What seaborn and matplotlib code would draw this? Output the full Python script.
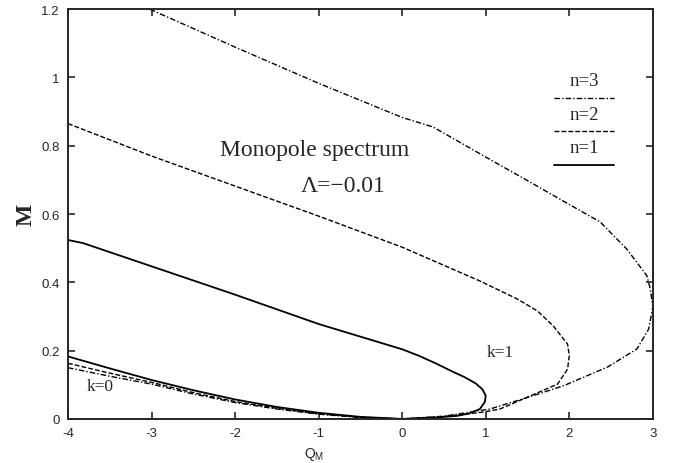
import numpy as np
import pandas as pd
import seaborn as sns
import matplotlib
matplotlib.use("Agg")
import matplotlib.pyplot as plt

# k=1 branches: from Q=-4 out to the turning point and back down to M~0
n1_k1_q = [-4.0, -3.82, -3.0, -2.0, -1.0, 0.0, 0.2, 0.4, 0.6, 0.75, 0.88, 0.96, 1.0, 0.99, 0.93, 0.8, 0.66, 0.4, 0.0]
n1_k1_m = [0.524, 0.515, 0.447, 0.364, 0.278, 0.204, 0.185, 0.163, 0.139, 0.122, 0.104, 0.087, 0.068, 0.050, 0.029, 0.016, 0.009, 0.004, 0.0]

n2_k1_q = [-4.0, -3.0, -2.0, -1.0, 0.0, 0.93, 1.38, 1.62, 1.81, 1.98, 2.0, 1.98, 1.86, 1.53, 1.17, 0.97, 0.5, 0.0]
n2_k1_m = [0.865, 0.770, 0.682, 0.594, 0.503, 0.404, 0.351, 0.316, 0.272, 0.219, 0.185, 0.146, 0.102, 0.067, 0.029, 0.020, 0.007, 0.0]

n3_k1_q = [-3.02, -2.0, -1.0, 0.0, 0.37, 1.0, 1.5, 2.0, 2.37, 2.69, 2.93, 2.97, 3.0, 2.95, 2.81, 2.46, 1.93, 1.45, 1.05, 0.5, 0.0]
n3_k1_m = [1.2, 1.089, 0.983, 0.883, 0.855, 0.767, 0.698, 0.628, 0.577, 0.497, 0.419, 0.380, 0.328, 0.263, 0.205, 0.152, 0.097, 0.059, 0.029, 0.008, 0.0]

# k=0 branches
k0_q = [-4.0, -3.5, -3.0, -2.5, -2.0, -1.5, -1.0, -0.5, 0.0]
n1_k0_m = [0.183, 0.148, 0.114, 0.084, 0.057, 0.035, 0.018, 0.006, 0.0]
n2_k0_m = [0.163, 0.134, 0.107, 0.077, 0.051, 0.031, 0.015, 0.005, 0.0]
n3_k0_m = [0.150, 0.125, 0.102, 0.073, 0.048, 0.029, 0.014, 0.004, 0.0]

legend_labels = ["n=3", "n=2", "n=1"]
x_ticks = [-4, -3, -2, -1, 0, 1, 2, 3]
y_ticks = [0, 0.2, 0.4, 0.6, 0.8, 1.0, 1.2]
y_tick_labels = ["0", "0.2", "0.4", "0.6", "0.8", "1", "1.2"]

sns.set_style("ticks")
plt.rcParams["font.family"] = ["Liberation Sans", "DejaVu Sans"]

fig = plt.figure(figsize=(6.73, 4.64), dpi=100)
ax = fig.add_axes([0.101, 0.095, 0.869, 0.883])

styles = {
    "n=1": dict(ls="-", lw=1.3),
    "n=2": dict(ls=(0, (3.5, 1.5)), lw=1.0),
    "n=3": dict(ls=(0, (4, 1.5, 1, 1.5)), lw=1.0),
}

curves = [
    ("n=1", n1_k1_q, n1_k1_m), ("n=1", k0_q, n1_k0_m),
    ("n=2", n2_k1_q, n2_k1_m), ("n=2", k0_q, n2_k0_m),
    ("n=3", n3_k1_q, n3_k1_m), ("n=3", k0_q, n3_k0_m),
]
for name, q, m in curves:
    df = pd.DataFrame({"Q": q, "M": m})
    sns.lineplot(data=df, x="Q", y="M", sort=False, estimator=None,
                 color="black", linestyle=styles[name]["ls"],
                 linewidth=styles[name]["lw"], ax=ax)

ax.set_xlim(-4, 3)
ax.set_ylim(0, 1.2)
ax.set_xticks(x_ticks)
ax.set_xticklabels([str(t) for t in x_ticks])
ax.set_yticks(y_ticks)
ax.set_yticklabels(y_tick_labels)
ax.tick_params(direction="in", length=5, width=1.2, labelsize=9.5,
               top=True, right=True, pad=6)
for s in ax.spines.values():
    s.set_linewidth(1.4)

ax.set_xlabel("Q$_\\mathregular{M}$", fontsize=10, labelpad=4, x=0.42)
ax.set_ylabel("M", fontsize=17, fontweight="bold", family="Liberation Serif",
              labelpad=3)

serif = "Liberation Serif"
ax.text(-1.05, 0.79, "Monopole spectrum", fontsize=17, family=serif,
        ha="center", va="center")
ax.text(-0.7, 0.685, "\u039b=\u22120.01", fontsize=17, family=serif,
        ha="center", va="center")
ax.text(1.17, 0.195, "k=1", fontsize=12.5, family=serif, ha="center", va="center")
ax.text(-3.62, 0.097, "k=0", fontsize=12.5, family=serif, ha="center", va="center")

# key: label above a short sample of each line style
for i, name in enumerate(legend_labels):
    ty = 0.99 - i * 0.098
    ly = 0.94 - i * 0.098
    ax.text(2.18, ty, name, fontsize=13.5, family=serif, ha="center", va="center")
    ax.plot([1.82, 2.53], [ly, ly], color="black",
            linestyle=styles[name]["ls"], linewidth=styles[name]["lw"])

fig.savefig("out.png", dpi=100)
